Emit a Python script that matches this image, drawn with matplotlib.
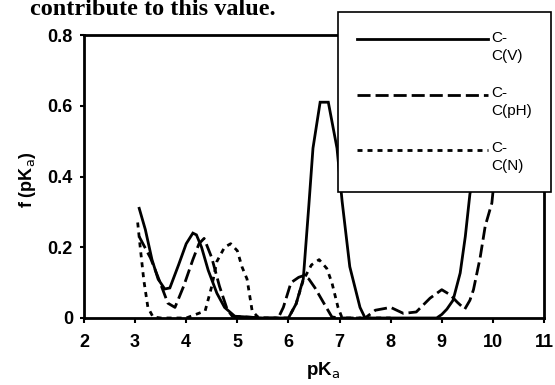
import numpy as np
import matplotlib
matplotlib.use("Agg")
import matplotlib.pyplot as plt
from matplotlib.legend_handler import HandlerLine2D

plt.rcParams['font.family'] = ['Liberation Sans', 'DejaVu Sans']
plt.rcParams['mathtext.default'] = 'regular'

# ---- data ----
cv_x = [3.08, 3.2, 3.33, 3.45, 3.58, 3.68, 3.85, 4.0, 4.13, 4.2, 4.3, 4.43, 4.6, 4.75, 4.95, 5.5,
        6.0, 6.15, 6.29, 6.4, 6.48, 6.62, 6.78, 6.95, 7.05, 7.2, 7.4, 7.5, 8.0, 8.5, 8.9,
        9.0, 9.1, 9.22, 9.36, 9.46, 9.55, 9.6, 9.7, 9.8]
cv_y = [0.31, 0.25, 0.165, 0.11, 0.082, 0.085, 0.15, 0.21, 0.24, 0.235, 0.2, 0.135, 0.07, 0.03, 0.005, 0.0,
        0.0, 0.04, 0.11, 0.32, 0.48, 0.61, 0.61, 0.48, 0.33, 0.145, 0.03, 0.0, 0.0, 0.0, 0.0,
        0.01, 0.025, 0.05, 0.127, 0.23, 0.35, 0.39, 0.6, 0.85]

cph_x = [3.08, 3.3, 3.45, 3.64, 3.78, 3.95, 4.13, 4.25, 4.35, 4.5, 4.65, 4.8, 4.9, 5.5,
         5.8, 5.9, 6.05, 6.2, 6.3, 6.4, 6.52, 6.7, 6.85, 7.0, 7.5, 7.7, 8.0, 8.25, 8.5,
         8.77, 9.0, 9.17, 9.3, 9.45, 9.55, 9.62, 9.75, 9.85, 9.98, 10.1]
cph_y = [0.23, 0.17, 0.115, 0.042, 0.03, 0.09, 0.165, 0.21, 0.225, 0.17, 0.09, 0.025, 0.005, 0.0,
         0.0, 0.03, 0.1, 0.115, 0.12, 0.11, 0.085, 0.04, 0.003, 0.0, 0.0, 0.022, 0.03, 0.013, 0.017,
         0.056, 0.08, 0.065, 0.045, 0.025, 0.05, 0.08, 0.17, 0.26, 0.325, 0.5]

cn_x = [3.05, 3.1, 3.17, 3.25, 3.35, 3.5, 4.0, 4.37, 4.5, 4.6, 4.75, 4.87, 5.0, 5.09, 5.19, 5.29,
        5.4, 5.5, 6.0, 6.15, 6.29, 6.45, 6.6, 6.75, 6.85, 6.97, 7.05, 7.5, 8.0]
cn_y = [0.27, 0.2, 0.107, 0.03, 0.003, 0.0, 0.0, 0.02, 0.09, 0.16, 0.2, 0.21, 0.19, 0.145, 0.11, 0.02,
        0.003, 0.0, 0.0, 0.04, 0.107, 0.15, 0.165, 0.14, 0.1, 0.03, 0.0, 0.0, 0.0]

labels = ["C-\nC(V)", "C-\nC(pH)", "C-\nC(N)"]
xticks = [2, 3, 4, 5, 6, 7, 8, 9, 10, 11]
yticks = [0, 0.2, 0.4, 0.6, 0.8]
ytick_labels = ["0", "0.2", "0.4", "0.6", "0.8"]

# ---- figure ----
W, H = 555, 385
fig = plt.figure(figsize=(W / 100, H / 100), dpi=100)
ax = fig.add_axes([84 / W, 1 - 318 / H, 460 / W, 283 / H])

lw = 2.0
l1, = ax.plot(cv_x, cv_y, color='black', lw=lw, solid_joinstyle='miter')
l2, = ax.plot(cph_x, cph_y, color='black', lw=lw, linestyle=(0, (4.7, 1.8)))
l3, = ax.plot(cn_x, cn_y, color='black', lw=lw, linestyle=(0, (1.8, 1.8)))

ax.set_xlim(2, 11)
ax.set_ylim(0, 0.8)
ax.set_xticks(xticks)
ax.set_yticks(yticks)
ax.set_yticklabels(ytick_labels)
for s in ax.spines.values():
    s.set_linewidth(2.0)
ax.tick_params(axis='x', direction='out', length=3.5, width=1.5, pad=8,
               labelsize=13)
ax.tick_params(axis='y', direction='out', length=3, width=1.5, pad=5,
               labelsize=13)
for t in ax.get_xticklabels() + ax.get_yticklabels():
    t.set_fontweight('bold')

ax.set_xlabel("pK$_\\mathrm{a}$", fontsize=13.5, fontweight='bold')
ax.xaxis.set_label_coords(0.52, -0.15)
ax.set_ylabel("f (pK$_\\mathrm{a}$)", fontsize=13, fontweight='bold')
ax.yaxis.set_label_coords(-0.1, 0.49)

# caption fragment at top (cut off in reference)
fig.text(30 / W, 1 - 15 / H, "contribute to this value.", family='Liberation Serif',
         fontweight='bold', fontsize=17.5, va='baseline', ha='left')


class FirstLineHandler(HandlerLine2D):
    def __init__(self, shift, **kw):
        super().__init__(**kw)
        self.shift = shift

    def create_artists(self, legend, orig_handle, xdescent, ydescent, width,
                       height, fontsize, trans):
        arts = super().create_artists(legend, orig_handle, xdescent, ydescent,
                                      width, height, fontsize, trans)
        for a in arts:
            a.set_ydata(np.asarray(a.get_ydata()) + self.shift)
        return arts


hm = {h: FirstLineHandler(5.5) for h in (l1, l2, l3)}
leg = fig.legend([l1, l2, l3], labels, loc='upper left',
                 bbox_to_anchor=(338 / W, 1 - 12 / H), borderaxespad=0,
                 fontsize=11, handlelength=8.6, handletextpad=0.15,
                 borderpad=1.25, labelspacing=1.55, fancybox=False,
                 framealpha=1, edgecolor='black', handler_map=hm)
leg.get_frame().set_linewidth(1.2)
for t in leg.get_texts():
    t.set_linespacing(1.32)

fig.savefig("out.png", dpi=100)
